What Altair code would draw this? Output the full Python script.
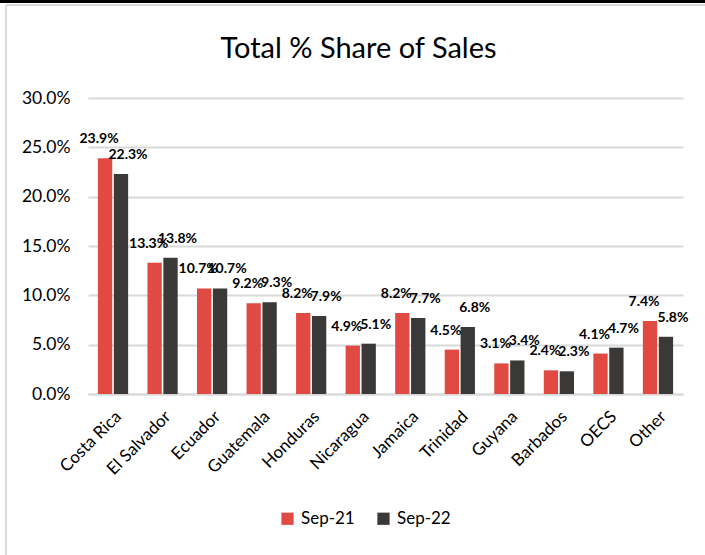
import altair as alt
import pandas as pd

countries = ["Costa Rica", "El Salvador", "Ecuador", "Guatemala", "Honduras", "Nicaragua",
             "Jamaica", "Trinidad", "Guyana", "Barbados", "OECS", "Other"]
sep21 = [23.9, 13.3, 10.7, 9.2, 8.2, 4.9, 8.2, 4.5, 3.1, 2.4, 4.1, 7.4]
sep22 = [22.3, 13.8, 10.7, 9.3, 7.9, 5.1, 7.7, 6.8, 3.4, 2.3, 4.7, 5.8]
series = ["Sep-21", "Sep-22"]
colors = ["#E04A42", "#3A3937"]
y_ticks = [0, 0.05, 0.10, 0.15, 0.20, 0.25, 0.30]

rows = []
for c, a, b in zip(countries, sep21, sep22):
    rows.append({"country": c, "series": series[0], "value": a / 100})
    rows.append({"country": c, "series": series[1], "value": b / 100})
df = pd.DataFrame(rows)

FONT = "Lato"

x_enc = alt.X("country:N", sort=countries, title=None,
              scale=alt.Scale(paddingInner=0.39, paddingOuter=0.2),
              axis=alt.Axis(labelAngle=-45, labelFontSize=17, labelFont=FONT, labelColor="#000000",
                            ticks=False, domain=True, domainColor="#d9d9d9", domainWidth=2,
                            labelPadding=14, grid=False))
y_enc = alt.Y("value:Q", title=None,
              scale=alt.Scale(domain=[0, 0.30]),
              axis=alt.Axis(values=y_ticks, format=".1%", labelFontSize=17.5, labelFont=FONT,
                            labelColor="#000000", ticks=False, domain=False, labelPadding=18,
                            gridColor="#d9d9d9", gridWidth=2))
xoff = alt.XOffset("series:N", sort=series, scale=alt.Scale(paddingInner=0.1))
color_enc = alt.Color("series:N", sort=series,
                      scale=alt.Scale(domain=series, range=colors),
                      legend=alt.Legend(title=None, orient="none", direction="horizontal",
                                        legendX=191, legendY=412, symbolType="square",
                                        symbolSize=150, symbolStrokeWidth=0, labelFontSize=17,
                                        labelFont=FONT, labelColor="#000000", columnPadding=20,
                                        labelOffset=5, padding=0))

bars = alt.Chart(df).mark_bar().encode(x=x_enc, y=y_enc, xOffset=xoff, color=color_enc)


def label_layer(name, shift):
    return alt.Chart(df).transform_filter(alt.datum.series == name).mark_text(
        fontWeight="bold", fontSize=14, font=FONT, color="#000000",
        baseline="alphabetic", dy=-15, dx=shift).encode(
        x=alt.X("country:N", sort=countries),
        y=alt.Y("value:Q"),
        xOffset=xoff,
        text=alt.Text("value:Q", format=".1%"),
    )


labels21 = label_layer(series[0], -6)
labels22 = label_layer(series[1], 7)

top_black = alt.Chart(df).mark_rule(color="#000000", strokeWidth=3).encode(
    x=alt.value(-88), x2=alt.value(617), y=alt.value(-97))
top_gray = alt.Chart(df).mark_rule(color="#d9d9d9", strokeWidth=1.5).encode(
    x=alt.value(-82), x2=alt.value(617), y=alt.value(-93))
left_gray = alt.Chart(df).mark_rule(color="#d9d9d9", strokeWidth=1.5).encode(
    x=alt.value(-82), y=alt.value(-93), y2=alt.value(457))

chart = alt.layer(top_black, top_gray, left_gray, bars, labels21, labels22).properties(
    width=595, height=296,
    autosize=alt.AutoSizeParams(type="none"),
    padding={"left": 88, "top": 98, "right": 22, "bottom": 161},
    title=alt.TitleParams("Total % Share of Sales", fontSize=29, font=FONT, fontWeight="normal",
                          color="#000000", dx=-27, offset=-87, anchor="middle", frame="group",
                          baseline="alphabetic"),
    background="white",
).configure_view(stroke=None)

chart.save("out.html", embed_options={"renderer": "svg", "actions": False})
